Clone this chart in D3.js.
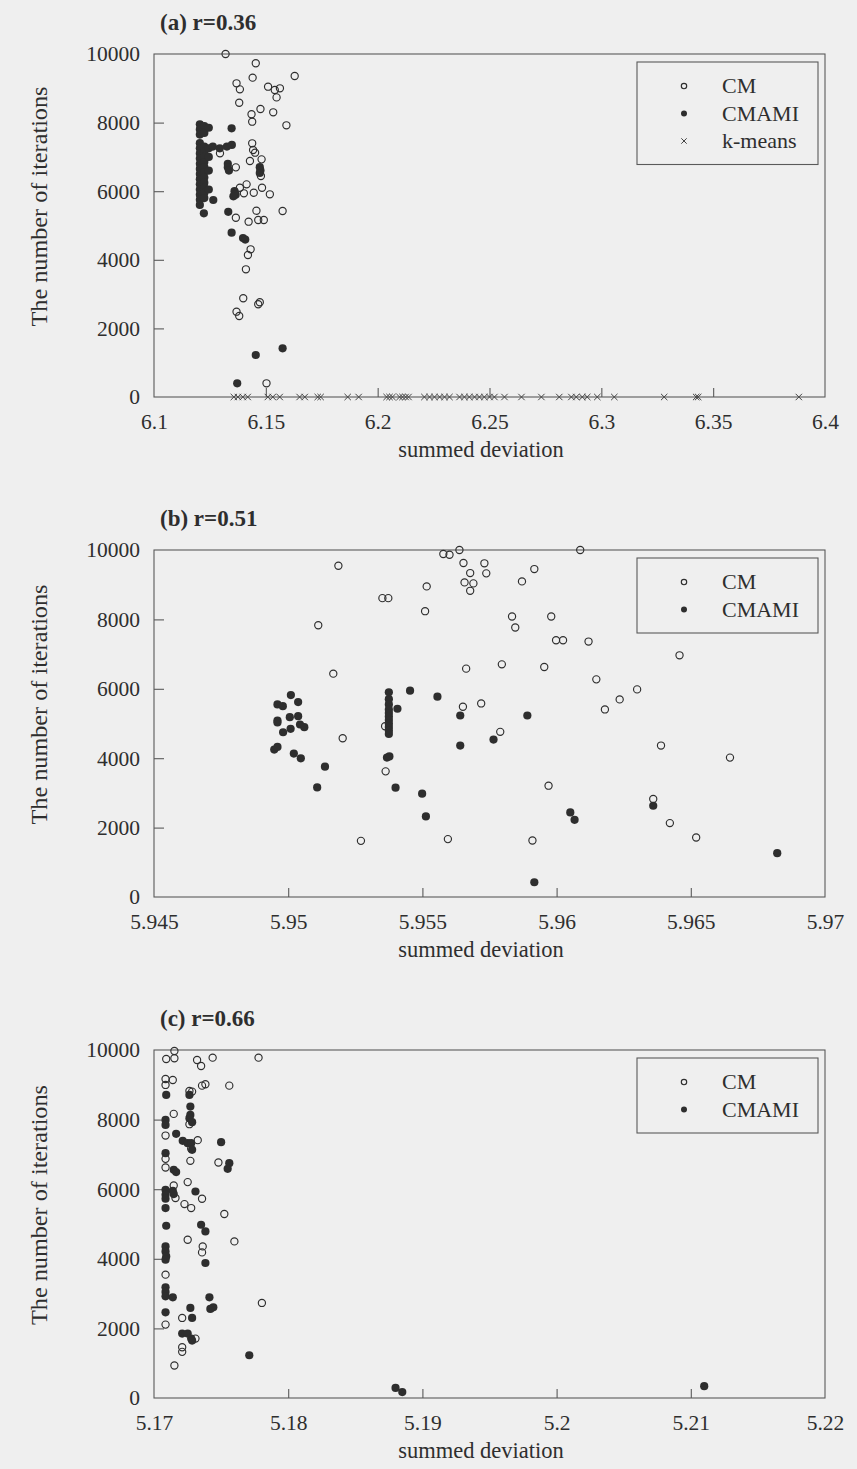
<!DOCTYPE html>
<html><head><meta charset="utf-8">
<script src="https://cdn.jsdelivr.net/npm/d3@7"></script>
<style>
html,body{margin:0;padding:0;background:#efefef;}
svg{display:block;}
text{font-family:"Liberation Serif","Times New Roman",serif;fill:#2e2e2e;}
</style></head><body>
<svg id="c" width="857" height="1469"></svg>
<script>
// ---------- data ----------
const titles = ["(a) r=0.36", "(b) r=0.51", "(c) r=0.66"];
const yTicks = [0, 2000, 4000, 6000, 8000, 10000];
const xTicksA = [6.1, 6.15, 6.2, 6.25, 6.3, 6.35, 6.4];
const xTicksB = [5.945, 5.95, 5.955, 5.96, 5.965, 5.97];
const xTicksC = [5.17, 5.18, 5.19, 5.2, 5.21, 5.22];

const cmA = [[6.1320,10000],[6.1455,9729],[6.1629,9359],[6.1369,9145],[6.1441,9310],[6.1384,8970],[6.1510,9047],[6.1540,8950],[6.1563,9000],[6.1548,8735],[6.1381,8580],[6.1476,8396],[6.1533,8300],[6.1436,8242],[6.1439,8027],[6.1592,7921],[6.1439,7396],[6.1443,7201],[6.1452,7123],[6.1295,7104],[6.1429,6880],[6.1481,6928],[6.1366,6695],[6.1478,6443],[6.1384,6102],[6.1414,6200],[6.1402,5938],[6.1446,5956],[6.1483,6102],[6.1518,5909],[6.1575,5423],[6.1366,5227],[6.1458,5431],[6.1423,5111],[6.1466,5160],[6.1491,5160],[6.1432,4306],[6.1420,4140],[6.1411,3723],[6.1399,2878],[6.1466,2703],[6.1473,2761],[6.1369,2487],[6.1381,2362],[6.1503,399]];
const cmamiA = [
 [6.1205,7950],[6.1205,7800],[6.1205,7650],[6.1205,7400],[6.1205,7250],[6.1205,7100],[6.1205,6950],[6.1205,6800],[6.1205,6650],[6.1205,6500],[6.1205,6350],[6.1205,6200],[6.1205,6050],[6.1205,5900],[6.1205,5750],[6.1205,5600],
 [6.1225,7900],[6.1225,7700],[6.1225,7300],[6.1225,7150],[6.1225,7000],[6.1225,6850],[6.1225,6700],[6.1225,6550],[6.1225,6400],[6.1225,6250],[6.1225,6100],[6.1225,5950],[6.1225,5800],
 [6.1245,7850],[6.1245,7250],[6.1245,7000],[6.1245,6600],[6.1245,6050],
 [6.1263,7300],[6.1294,7250],[6.1326,7300],[6.1348,7350],
 [6.1265,5743],[6.1223,5355],[6.1330,6800],[6.1330,6700],[6.1335,6600],[6.1360,6000],[6.1365,5900],[6.1355,5850],[6.1332,5400],[6.1347,4790],[6.1398,4635],[6.1408,4590],[6.1473,6700],[6.1476,6600],[6.1473,6530],[6.1347,7834],[6.1455,1224],[6.1575,1418],[6.1372,399]];
const kmeansA = [6.1357,6.1375,6.1397,6.1419,6.1509,6.1531,6.1562,6.1651,6.1674,6.1732,6.1745,6.1866,6.1915,6.2040,6.2053,6.2066,6.2098,6.2111,6.2125,6.2138,6.2209,6.2232,6.2254,6.2277,6.2299,6.2321,6.2366,6.2388,6.2410,6.2433,6.2455,6.2477,6.2500,6.2522,6.2567,6.2643,6.2732,6.2812,6.2866,6.2888,6.2915,6.2937,6.2982,6.3058,6.3281,6.3424,6.3433,6.3883];

const cmB = [[5.95187,9546],[5.95351,8613],[5.95373,8613],[5.95112,7832],[5.95168,6436],[5.95203,4575],[5.95361,4922],[5.95363,3621],[5.95271,1618],[5.95578,9884],[5.95601,9864],[5.95638,10000],[5.96088,10000],[5.95653,9624],[5.95731,9616],[5.95678,9335],[5.95738,9327],[5.95917,9451],[5.95657,9066],[5.9569,9038],[5.95678,8824],[5.95871,9095],[5.95516,8951],[5.9551,8237],[5.95834,8084],[5.9598,8084],[5.95846,7766],[5.95998,7399],[5.96024,7399],[5.96119,7361],[5.96458,6965],[5.95663,6581],[5.95796,6705],[5.95954,6627],[5.96148,6272],[5.963,5983],[5.96235,5694],[5.9618,5405],[5.95651,5483],[5.95719,5578],[5.9579,4760],[5.96389,4364],[5.96646,4017],[5.9597,3208],[5.9636,2824],[5.96422,2130],[5.9652,1714],[5.95595,1668],[5.9591,1627]];
const cmamiB = [[5.9501,5818],[5.9496,5549],[5.9498,5500],[5.95037,5616],[5.9496,5087],[5.9496,5029],[5.95006,5182],[5.95037,5211],[5.95044,4971],[5.9506,4893],[5.95009,4847],[5.94981,4748],[5.94948,4249],[5.9496,4326],[5.95021,4133],[5.95047,3997],[5.95137,3757],[5.95108,3159],
 [5.95375,5900],[5.95375,5700],[5.95375,5550],[5.95375,5400],[5.95375,5300],[5.95375,5200],[5.95375,5100],[5.95375,5000],[5.95375,4900],[5.95375,4800],[5.95375,4700],[5.95368,4017],[5.95377,4050],
 [5.95407,5425],[5.95454,5945],[5.95556,5772],[5.95641,5231],[5.95641,4364],[5.95765,4538],[5.95891,5231],[5.9540,3150],[5.95499,2977],[5.95513,2321],[5.96051,2436],[5.96067,2225],[5.9636,2630],[5.96822,1263],[5.95917,425]];

const cmC = [[5.17152,9971],[5.17152,9762],[5.17091,9742],[5.17321,9713],[5.17351,9541],[5.17437,9780],[5.17779,9780],[5.17086,9168],[5.1714,9139],[5.17086,8996],[5.17264,8823],[5.17284,8804],[5.17358,8976],[5.17383,9016],[5.17561,8976],[5.17147,8164],[5.17264,7868],[5.17086,7541],[5.17326,7409],[5.17277,7159],[5.17086,6872],[5.17271,6815],[5.1748,6766],[5.17086,6623],[5.17147,6106],[5.17251,6204],[5.1716,5745],[5.17358,5725],[5.17227,5572],[5.17277,5458],[5.17524,5286],[5.17251,4548],[5.17363,4356],[5.17358,4184],[5.17599,4500],[5.17086,3544],[5.17804,2732],[5.1721,2301],[5.17086,2109],[5.17309,1707],[5.1721,1458],[5.1721,1326],[5.17152,933]];
const cmamiC = [[5.17091,8709],[5.17264,8709],[5.17271,8373],[5.17271,8135],[5.17264,8040],[5.17284,7925],[5.17086,7991],[5.17086,7848],[5.17165,7590],[5.17214,7389],[5.17251,7322],[5.17277,7322],[5.17284,7131],[5.175,7351],[5.17086,7036],[5.17147,6557],[5.17165,6491],[5.17561,6749],[5.17549,6585],[5.17086,5983],[5.17086,5839],[5.17086,5725],[5.1714,5954],[5.17147,5859],[5.17309,5934],[5.17086,5458],[5.17091,4950],[5.17351,4978],[5.17383,4786],[5.17086,4356],[5.17086,4212],[5.17091,4069],[5.17086,3974],[5.17383,3879],[5.17086,3180],[5.17086,3047],[5.17086,2921],[5.1714,2893],[5.17413,2893],[5.1742,2559],[5.17442,2606],[5.17271,2588],[5.17086,2463],[5.17284,2301],[5.1721,1851],[5.17251,1851],[5.17277,1707],[5.17284,1650],[5.1771,1228],[5.188,290],[5.1885,170],[5.211,340]];

const legendA = ["CM", "CMAMI", "k-means"];
const legendBC = ["CM", "CMAMI"];
const xLabel = "summed deviation";
const yLabel = "The number of iterations";

// ---------- drawing ----------
const svg = d3.select("#c");
svg.append("rect").attr("width",857).attr("height",1469).attr("fill","#efefef");

const INK = "#2e2e2e", AX = "#5a5a5a";
const fmtX = d => String(+d.toFixed(3));

function drawMarker(g, type, x, y, small) {
  if (type === "CM") {
    g.append("circle").attr("cx",x).attr("cy",y).attr("r", small ? 2.7 : 3.6)
      .attr("fill","none").attr("stroke",INK).attr("stroke-width",1.15);
  } else if (type === "CMAMI") {
    g.append("circle").attr("cx",x).attr("cy",y).attr("r", small ? 3.0 : 4.1)
      .attr("fill",INK);
  } else {
    const s = small ? 2.7 : 3.2;
    g.append("path").attr("d",`M${x-s},${y-s}L${x+s},${y+s}M${x-s},${y+s}L${x+s},${y-s}`)
      .attr("stroke","#444").attr("stroke-width",1).attr("fill","none");
  }
}

function panel(o) {
  const L = 154, R = 825;
  const x = d3.scaleLinear().domain([o.xTicks[0], o.xTicks[o.xTicks.length-1]]).range([L, R]);
  const y = d3.scaleLinear().domain([0, 10000]).range([o.bottom, o.top]);
  const g = svg.append("g");

  // title
  g.append("text").attr("x",160).attr("y",o.top-24).attr("font-weight","bold")
    .attr("font-size",23).text(o.title);

  // frame
  g.append("rect").attr("x",L).attr("y",o.top).attr("width",R-L).attr("height",o.bottom-o.top)
    .attr("fill","none").attr("stroke",AX).attr("stroke-width",1.1);

  // axes (ticks inward)
  const xAxis = d3.axisBottom(x).tickValues(o.xTicks).tickFormat(fmtX).tickSizeInner(-9).tickSizeOuter(0).tickPadding(17);
  const gx = g.append("g").attr("transform",`translate(0,${o.bottom})`).call(xAxis);
  gx.select(".domain").remove();
  gx.selectAll(".tick line").attr("stroke",AX).attr("stroke-width",1.1)
    .filter(d => d === o.xTicks[0] || d === o.xTicks[o.xTicks.length-1]).remove();
  gx.selectAll(".tick text").attr("font-size",21.5).attr("fill",INK).attr("font-family","Liberation Serif");

  const yAxis = d3.axisLeft(y).tickValues(yTicks).tickFormat(d3.format("d")).tickSizeInner(-10).tickSizeOuter(0).tickPadding(14);
  const gy = g.append("g").attr("transform",`translate(${L},0)`).call(yAxis);
  gy.select(".domain").remove();
  gy.selectAll(".tick line").attr("stroke",AX).attr("stroke-width",1.1)
    .filter(d => d === 0 || d === 10000).remove();
  gy.selectAll(".tick text").attr("font-size",21.5).attr("fill",INK).attr("font-family","Liberation Serif");

  // axis labels
  g.append("text").attr("x",481).attr("y",o.bottom+60).attr("text-anchor","middle")
    .attr("font-size",22.5).text(xLabel);
  g.append("text").attr("transform",`translate(47,${(o.top+o.bottom)/2-19}) rotate(-90)`)
    .attr("text-anchor","middle").attr("font-size",23)
    .attr("textLength",240).attr("lengthAdjust","spacingAndGlyphs").text(yLabel);

  // points
  const pg = g.append("g");
  o.cm.forEach(d => drawMarker(pg, "CM", x(d[0]), y(d[1])));
  o.cmami.forEach(d => drawMarker(pg, "CMAMI", x(d[0]), y(d[1])));
  if (o.kmeans) o.kmeans.forEach(v => drawMarker(pg, "k", x(v), y(0)));

  // legend
  const lx = 637, lw = 181, ly = o.top + 8, rowH = 27.5;
  const lh = o.legend.length * rowH + 20;
  g.append("rect").attr("x",lx).attr("y",ly).attr("width",lw).attr("height",lh)
    .attr("fill","#efefef").attr("stroke",AX).attr("stroke-width",1.1);
  o.legend.forEach((name, i) => {
    const cy = ly + 24 + i * rowH;
    drawMarker(g, name === "k-means" ? "k" : name, 684, cy, true);
    g.append("text").attr("x",722).attr("y",cy+7).attr("font-size",22).text(name);
  });
}

panel({title:titles[0], top:54, bottom:397, xTicks:xTicksA, cm:cmA, cmami:cmamiA, kmeans:kmeansA, legend:legendA});
panel({title:titles[1], top:550, bottom:897, xTicks:xTicksB, cm:cmB, cmami:cmamiB, legend:legendBC});
panel({title:titles[2], top:1050, bottom:1398, xTicks:xTicksC, cm:cmC, cmami:cmamiC, legend:legendBC});
</script>
</body></html>
